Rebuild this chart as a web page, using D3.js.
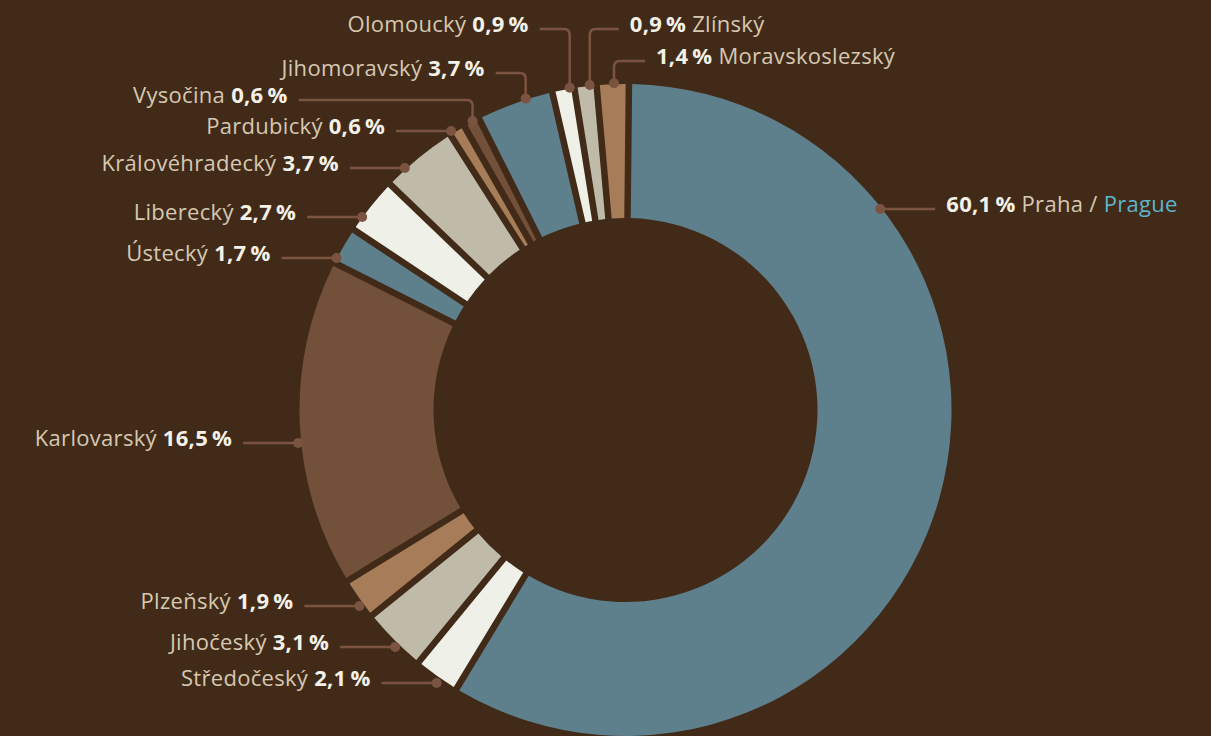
<!DOCTYPE html>
<html><head><meta charset="utf-8">
<script src="https://cdn.jsdelivr.net/npm/d3@7"></script>
<style>
html,body{margin:0;padding:0;background:#412b18;}
svg{display:block}
text{font-family:"Open Sans",sans-serif;}
</style></head><body>
<svg id="chart" width="1211" height="736"></svg>
<script>
// ---- data ----
const regions = ["Praha","Středočeský","Jihočeský","Plzeňský","Karlovarský","Ústecký","Liberecký","Královéhradecký","Pardubický","Vysočina","Jihomoravský","Olomoucký","Zlínský","Moravskoslezský"];
const shares = [60.1,2.1,3.1,1.9,16.5,1.7,2.7,3.7,0.6,0.6,3.7,0.9,0.9,1.4];
const englishNames = ["Prague","","","","","","","","","","","","",""];

// ---- styles ----
const palette = ["#5e7f8c","#eff0e7","#c0bba9","#a67c59","#73503a"];
const leaderColor = "#7b5341";
const nameColor = "#d6c8b2";
const valueColor = "#f4f1e8";
const englishColor = "#5db5cd";

// ---- label layout (leader line y, type, side, elbow run, dot radius offset, position along slice) ----
const labelLayout = [
  {type:"h", side:"right", y:209, dr:-1.5},
  {type:"h", side:"left",  y:683, dr:6},
  {type:"h", side:"left",  y:647, dr:4.5},
  {type:"h", side:"left",  y:606, dr:4.5},
  {type:"h", side:"left",  y:443, dr:3},
  {type:"h", side:"left",  y:258, dr:0.5},
  {type:"h", side:"left",  y:217, dr:0.5},
  {type:"h", side:"left",  y:168, dr:1.5},
  {type:"h", side:"left",  y:131, dr:3},
  {type:"e", side:"left",  y:100, run:174, dr:1, at:0.59},
  {type:"e", side:"left",  y:73,  run:30,  dr:1, at:0.65},
  {type:"e", side:"left",  y:29,  run:30,  dr:1, at:0.8},
  {type:"e", side:"right", y:29,  run:29,  dr:1, at:0.7},
  {type:"e", side:"right", y:61,  run:31,  dr:1, at:0.54}
];

const W = 1211, H = 736;
const cx = 625.5, cy = 410, R = 326, r = 192;
const pad = 0.014;
const start = 0.0105;
const leaderLen = 55, textGap = 11, dotR = 5, cornerR = 6;

const svg = d3.select("#chart");
svg.append("rect").attr("width",W).attr("height",H).attr("fill","#412b18");

const color = d3.scaleOrdinal().domain(d3.range(regions.length)).range(palette);
const fmt = v => d3.format(".1f")(v).replace(".", ",") + "\u2009%";

const items = regions.map((name,i)=>({name, value:shares[i], en:englishNames[i], i}));
const pie = d3.pie().sort(null).value(d=>d.value).padAngle(pad)
  .startAngle(start).endAngle(start + 2*Math.PI);
const arcs = pie(items);
const arc = d3.arc().innerRadius(r).outerRadius(R).padRadius(6.5/pad);

const g = svg.append("g").attr("transform",`translate(${cx},${cy})`);
g.selectAll("path.slice").data(arcs).join("path")
  .attr("class","slice")
  .attr("d",arc)
  .attr("fill",d=>color(d.index));

// ---- labels ----
const lab = svg.append("g");
arcs.forEach((a,k)=>{
  const L = labelLayout[k];
  const Rd = R + L.dr;
  const sgn = L.side === "left" ? -1 : 1;
  let dx, dy, pathD, endX;
  if (L.type === "h") {
    dy = L.y;
    dx = cx + sgn*Math.sqrt(Rd*Rd - (L.y-cy)*(L.y-cy));
    endX = dx + sgn*leaderLen;
    pathD = `M${dx},${dy}L${endX},${L.y}`;
  } else {
    const ang = a.startAngle + (a.endAngle - a.startAngle)*L.at;
    dx = cx + Rd*Math.sin(ang);
    dy = cy - Rd*Math.cos(ang);
    endX = dx + sgn*L.run;
    pathD = `M${dx},${dy}L${dx},${L.y+cornerR}Q${dx},${L.y} ${dx+sgn*cornerR},${L.y}L${endX},${L.y}`;
  }
  lab.append("path").attr("d",pathD).attr("fill","none")
     .attr("stroke",leaderColor).attr("stroke-width",2.5);
  lab.append("circle").attr("cx",dx).attr("cy",dy).attr("r",dotR).attr("fill",leaderColor);

  const t = lab.append("text")
    .attr("x", endX + sgn*textGap)
    .attr("y", L.y + 2.5)
    .attr("font-size", 22)
    .attr("letter-spacing", "0.3px")
    .attr("text-anchor", L.side === "left" ? "end" : "start");
  const d = a.data;
  if (L.side === "left") {
    t.append("tspan").attr("fill",nameColor).text(d.name + " ");
    t.append("tspan").attr("fill",valueColor).attr("font-weight",700).text(fmt(d.value));
  } else {
    t.append("tspan").attr("fill",valueColor).attr("font-weight",700).text(fmt(d.value));
    t.append("tspan").attr("fill",nameColor).text(" " + d.name + (d.en ? " / " : ""));
    if (d.en) t.append("tspan").attr("fill",englishColor).text(d.en);
  }
});
</script>
</body></html>
